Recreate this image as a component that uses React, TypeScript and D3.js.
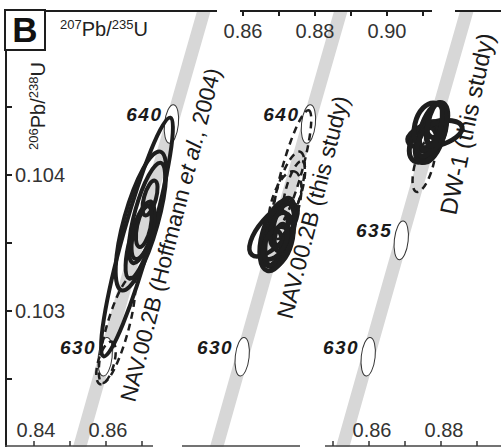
import React from 'react';
import * as d3 from 'd3';

const W = 501;
const H = 447;
const FONT = "'Liberation Sans', Arial, Helvetica, sans-serif";

// Concordia reference points: age (Ma), 207Pb/235U, 206Pb/238U
const concordiaAges = [620, 630, 635, 640, 650];
const concordia207 = [0.841548, 0.859775, 0.868956, 0.878182, 0.89677];
const concordia206 = [0.100955, 0.102664, 0.103519, 0.104375, 0.10609];

// Age marker uncertainty (2s) on the concordia
const markerErr207 = 0.002;
const markerErr206 = 0.000142;
const markerRho = 0.25;

// Marker ages shown per panel, and which are labelled
const p1MarkerAges = [630, 640];
const p2MarkerAges = [630, 640];
const p3MarkerAges = [630, 635, 640];
const p1LabelAges = [630, 640];
const p2LabelAges = [630, 640];
const p3LabelAges = [630, 635];

// Ellipses: [207Pb/235U, 206Pb/238U, err207, err206, rho]
const hoffmannSolid = [
  [0.86861, 0.103544, 0.00999, 0.000878, 0.915],
  [0.869722, 0.103662, 0.00704, 0.000511, 0.72],
  [0.871389, 0.103721, 0.00504, 0.000369, 0.728],
  [0.869444, 0.103522, 0.00401, 0.000284, 0.697],
  [0.870278, 0.103581, 0.00319, 0.000199, 0.586],
  [0.872222, 0.103831, 0.00209, 0.000128, 0.569],
  [0.8705, 0.10362, 0.0022, 0.00015, 0.5],
];
const hoffmannDashed = [
  [0.86, 0.102618, 0.0027, 0.000157, 0.526],
  [0.863056, 0.10286, 0.00506, 0.00039, 0.779],
];
const navSolid = [
  [0.868472, 0.103596, 0.00669, 0.000195, 0.691],
  [0.870278, 0.103581, 0.00414, 0.000249, 0.555],
  [0.869722, 0.103522, 0.00429, 0.0002, 0.362],
  [0.871389, 0.103632, 0.00314, 0.000157, 0.412],
  [0.868056, 0.103463, 0.00276, 0.000129, 0.362],
  [0.869444, 0.103551, 0.00483, 0.000257, 0.457],
  [0.87, 0.1036, 0.0025, 0.00013, 0.4],
  [0.869, 0.1035, 0.0035, 0.00012, 0.5],
  [0.8705, 0.10354, 0.0018, 0.0001, 0.3],
];
const navDashed = [
  [0.873611, 0.104037, 0.00535, 0.000439, 0.843],
  [0.8725, 0.103853, 0.00465, 0.000319, 0.67],
  [0.871667, 0.103779, 0.00457, 0.000249, 0.478],
  [0.874167, 0.10389, 0.0031, 0.000213, 0.67],
];
const dwSolid = [
  [0.8775, 0.104309, 0.00392, 0.000214, 0.478],
  [0.878333, 0.104301, 0.00756, 0.000101, 0.43],
  [0.875556, 0.104243, 0.00437, 0.000148, 0.43],
  [0.878889, 0.104404, 0.00299, 0.000129, 0.307],
  [0.875833, 0.104221, 0.00299, 0.000129, 0.307],
  [0.877, 0.10435, 0.0045, 0.00018, 0.2],
  [0.8765, 0.10428, 0.0025, 0.0001, 0.3],
  [0.8775, 0.10431, 0.0016, 0.00008, 0.3],
  [0.8768, 0.10426, 0.0035, 0.00012, 0.55],
  [0.8782, 0.10437, 0.0022, 0.00016, 0.5],
];
const dwDashed = [
  [0.875278, 0.104074, 0.00319, 0.000199, 0.586],
];

// Axis ticks
const yTicks = [0.1025, 0.103, 0.1035, 0.104, 0.1045];
const yTickLabels = ['0.103', '0.104'];
const p1BottomTicks = [0.84, 0.85, 0.86, 0.87];
const p1BottomLabels = ['0.84', '0.86'];
const p2TopTicks = [0.86, 0.87, 0.88, 0.89, 0.9, 0.91];
const p2TopLabels = ['0.86', '0.88', '0.90'];
const p3BottomTicks = [0.85, 0.86, 0.87, 0.88, 0.89];
const p3BottomLabels = ['0.86', '0.88'];

const panelLabels = [
  'NAV.00.2B (Hoffmann ',
  'NAV.00.2B (this study)',
  'DW-1 (this study)',
];

type E = number[];

function ellipseProps(xs: any, ys: any, e: E) {
  const [mx, my, sx, sy, rho] = e;
  const cx = xs(mx);
  const cy = ys(my);
  const px = Math.abs(xs(mx + sx) - cx);
  const py = Math.abs(ys(my + sy) - cy);
  const a = px * px;
  const c = py * py;
  const b = -rho * px * py;
  const T = (a + c) / 2;
  const D = Math.sqrt(((a - c) / 2) ** 2 + b * b);
  const l1 = T + D;
  const l2 = Math.max(T - D, 0.01);
  const ang = (0.5 * Math.atan2(2 * b, a - c) * 180) / Math.PI;
  return { cx, cy, rx: Math.sqrt(l1), ry: Math.sqrt(l2), ang };
}

function Ell({ xs, ys, e, ...rest }: any) {
  const p = ellipseProps(xs, ys, e);
  return (
    <ellipse
      cx={p.cx}
      cy={p.cy}
      rx={p.rx}
      ry={p.ry}
      transform={`rotate(${p.ang},${p.cx},${p.cy})`}
      {...rest}
    />
  );
}

export default function App() {
  const y = d3.scaleLinear().domain([0.103, 0.104]).range([311, 175]);
  const x1 = d3.scaleLinear().domain([0.84, 0.86]).range([34, 106]);
  const x2 = d3.scaleLinear().domain([0.86, 0.88]).range([243, 315]);
  const x3 = d3.scaleLinear().domain([0.86, 0.88]).range([369, 441]);

  const panels = [
    { xs: x1, markers: p1MarkerAges, labels: p1LabelAges, solid: hoffmannSolid, dashed: hoffmannDashed, sw: 4 },
    { xs: x2, markers: p2MarkerAges, labels: p2LabelAges, solid: navSolid, dashed: navDashed, sw: 4.5 },
    { xs: x3, markers: p3MarkerAges, labels: p3LabelAges, solid: dwSolid, dashed: dwDashed, sw: 5 },
  ];

  const idx = (age: number) => concordiaAges.indexOf(age);

  const bandLine = (xs: any) =>
    d3
      .line<number>()
      .x((i) => xs(concordia207[i]))
      .y((i) => y(concordia206[i]))
      .curve(d3.curveCatmullRom)(concordiaAges.map((_, i) => i)) || '';

  const labelStyle = { fontFamily: FONT, fill: '#1a1a1a' } as any;

  const dark = '#1e1e1e';

  return (
    <svg width={W} height={H} style={{ position: 'absolute', left: 0, top: 0, background: '#fff' }}>
      <defs>
        <clipPath id="plotClip">
          <rect x={0} y={11} width={W} height={H - 11} />
        </clipPath>
      </defs>
      <rect x={0} y={0} width={W} height={H} fill="#fff" />

      {/* concordia bands */}
      <g clipPath="url(#plotClip)">
        {panels.map((p, k) => (
          <path key={k} d={bandLine(p.xs)} fill="none" stroke="#d7d7d7" strokeWidth={13} />
        ))}
      </g>

      {/* age markers */}
      {panels.map((p, k) =>
        p.markers.map((age) => {
          const i = idx(age);
          return (
            <Ell
              key={`m${k}-${age}`}
              xs={p.xs}
              ys={y}
              e={[concordia207[i], concordia206[i], markerErr207, markerErr206, markerRho]}
              fill="#fff"
              stroke="#333"
              strokeWidth={1}
            />
          );
        })
      )}

      {/* dashed ellipses */}
      {panels.map((p, k) =>
        p.dashed.map((e, j) => (
          <Ell key={`d${k}-${j}`} xs={p.xs} ys={y} e={e} fill="none" stroke={dark} strokeWidth={2.5} strokeDasharray="7 5" />
        ))
      )}

      {/* solid ellipses */}
      {panels.map((p, k) =>
        p.solid.map((e, j) => (
          <Ell key={`s${k}-${j}`} xs={p.xs} ys={y} e={e} fill="none" stroke={dark} strokeWidth={p.sw} />
        ))
      )}

      {/* age labels */}
      {panels.map((p, k) =>
        p.labels.map((age) => {
          const i = idx(age);
          const cx = p.xs(concordia207[i]);
          const cy = y(concordia206[i]);
          return (
            <text
              key={`al${k}-${age}`}
              x={cx - 9}
              y={cy - 3}
              textAnchor="end"
              style={{ fontFamily: FONT, fontSize: 19, fontWeight: 'bold', fontStyle: 'italic', letterSpacing: 1.5, fill: '#1a1a1a' }}
            >
              {age}
            </text>
          );
        })
      )}

      {/* sample labels */}
      <text transform="translate(135,403) rotate(-75.5)" style={{ ...labelStyle, fontSize: 22.5 }}>
        {panelLabels[0]}
        <tspan fontStyle="italic">et al.</tspan>, 2004)
      </text>
      <text transform="translate(292,320) rotate(-75.5)" style={{ ...labelStyle, fontSize: 23 }}>
        {panelLabels[1]}
      </text>
      <text transform="translate(456,216) rotate(-78)" style={{ ...labelStyle, fontSize: 24 }}>
        {panelLabels[2]}
      </text>

      {/* left axis */}
      <line x1={6} x2={6} y1={10} y2={H} stroke={dark} strokeWidth={2} />
      {yTicks.map((t) => (
        <line key={`yt${t}`} x1={6} x2={12} y1={y(t)} y2={y(t)} stroke={dark} strokeWidth={2} />
      ))}
      {yTickLabels.map((t) => (
        <text key={`yl${t}`} x={15} y={y(+t) + 7} style={{ fontFamily: FONT, fontSize: 20, fill: '#333' }}>
          {t}
        </text>
      ))}

      {/* top axis segments */}
      {[[45, 217], [240, 432], [455, 501]].map(([a, b], k) => (
        <line key={`ta${k}`} x1={a} x2={b} y1={11} y2={11} stroke={dark} strokeWidth={2} />
      ))}
      {p2TopTicks.map((t) => (
        <line key={`tt${t}`} x1={x2(t)} x2={x2(t)} y1={11} y2={16} stroke={dark} strokeWidth={2} />
      ))}
      {p2TopLabels.map((t) => (
        <text key={`tl${t}`} x={x2(+t)} y={38} textAnchor="middle" style={{ fontFamily: FONT, fontSize: 20, fill: '#333' }}>
          {t}
        </text>
      ))}

      {/* bottom axis segments */}
      {[[5, 153], [182, 300], [325, 501]].map(([a, b], k) => (
        <line key={`ba${k}`} x1={a} x2={b} y1={446} y2={446} stroke="#444" strokeWidth={1.5} />
      ))}
      {p1BottomTicks.map((t) => (
        <line key={`b1t${t}`} x1={x1(t)} x2={x1(t)} y1={446} y2={441} stroke="#333" strokeWidth={1.5} />
      ))}
      {p1BottomLabels.map((t) => (
        <text key={`b1l${t}`} x={x1(+t) + 2} y={437} textAnchor="middle" style={{ fontFamily: FONT, fontSize: 20, fill: '#333' }}>
          {t}
        </text>
      ))}
      {p3BottomTicks.map((t) => (
        <line key={`b3t${t}`} x1={x3(t)} x2={x3(t)} y1={446} y2={441} stroke="#333" strokeWidth={1.5} />
      ))}
      {p3BottomLabels.map((t) => (
        <text key={`b3l${t}`} x={x3(+t) + 3} y={437} textAnchor="middle" style={{ fontFamily: FONT, fontSize: 20, fill: '#333' }}>
          {t}
        </text>
      ))}

      {/* axis titles */}
      <text x={60} y={36} style={{ fontFamily: FONT, fontSize: 20, fill: '#222' }}>
        <tspan fontSize={13} dy={-7}>207</tspan>
        <tspan dy={7}>Pb/</tspan>
        <tspan fontSize={13} dy={-7}>235</tspan>
        <tspan dy={7}>U</tspan>
      </text>
      <text transform="translate(45,106) rotate(-90)" textAnchor="middle" style={{ fontFamily: FONT, fontSize: 20, fill: '#222' }}>
        <tspan fontSize={13} dy={-7}>206</tspan>
        <tspan dy={7}>Pb/</tspan>
        <tspan fontSize={13} dy={-7}>238</tspan>
        <tspan dy={7}>U</tspan>
      </text>

      {/* panel letter box */}
      <rect x={5} y={10} width={40} height={40} fill="#fff" stroke={dark} strokeWidth={2} />
      <text x={25} y={42} textAnchor="middle" style={{ fontFamily: FONT, fontSize: 35, fontWeight: 'bold', fill: '#111' }}>
        B
      </text>
    </svg>
  );
}
